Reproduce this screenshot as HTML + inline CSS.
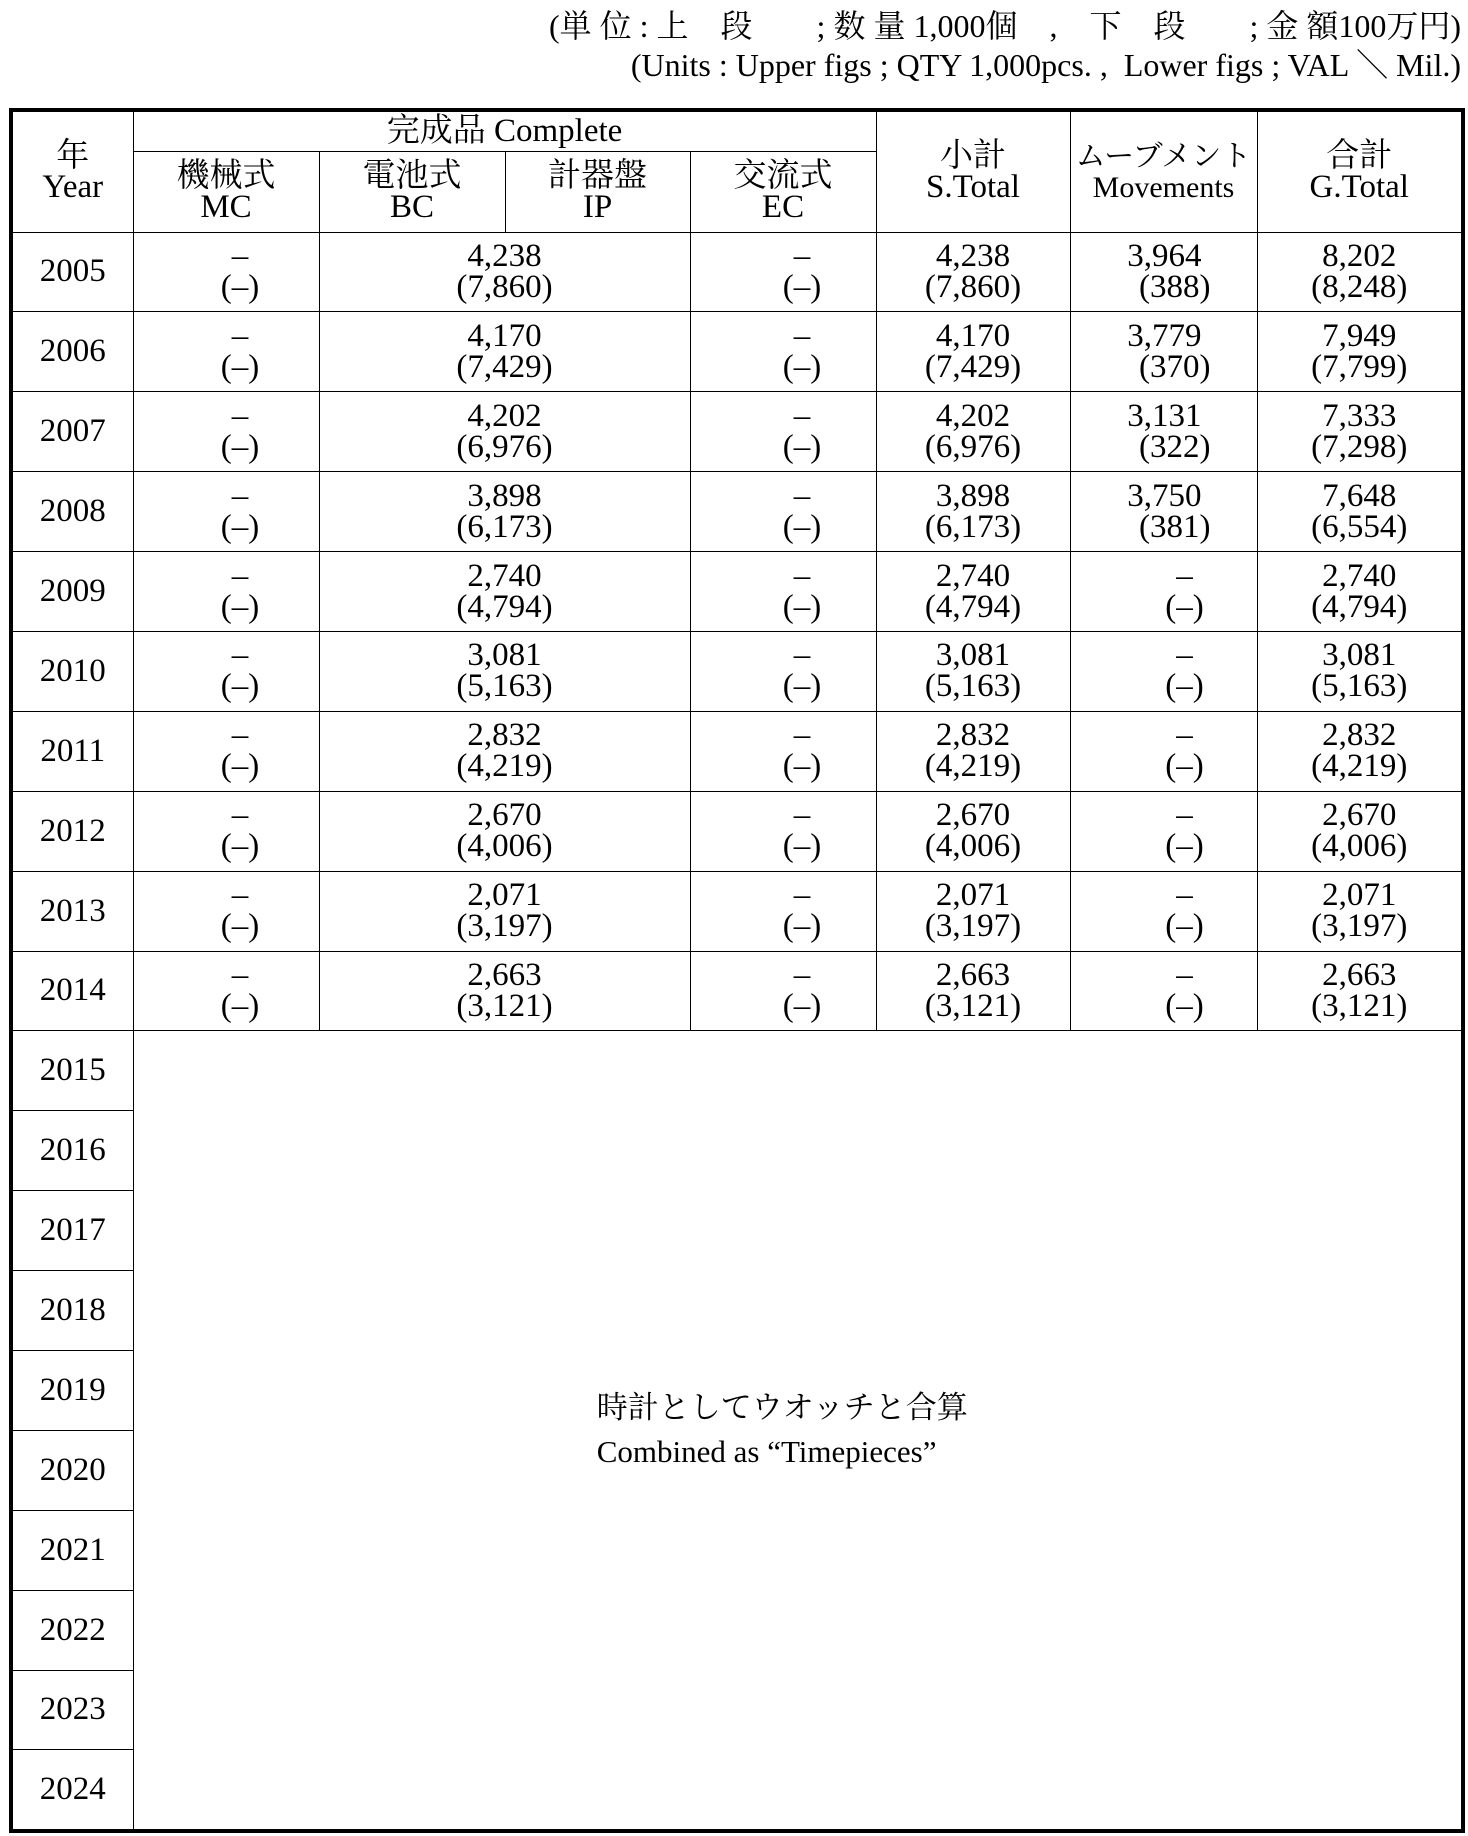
<!DOCTYPE html>
<html><head><meta charset="utf-8"><style>
body{margin:0;background:#fff;width:1468px;height:1836px;position:relative;overflow:hidden;font-family:"Liberation Serif","Noto Serif CJK SC",serif;color:#000}
.top{position:absolute;right:7px;font-size:32px;white-space:pre;line-height:38px}
table{position:absolute;left:9px;top:108px;border-collapse:collapse;table-layout:fixed;width:1452px;border:4px solid #000}
td{border:1.5px solid #000;text-align:center;vertical-align:middle;font-size:33px;line-height:31px;padding:0;overflow:hidden;white-space:nowrap}
tr.d td{height:78.9px}
.mc{padding-left:28px}
.ec{padding-left:38px}
.mv{padding-left:42px}
.mvr{text-align:right;padding-right:46px}
.mvr span{display:block}
.mvr span.u{padding-right:9px}
.big{font-size:31px;line-height:44px;text-align:center;vertical-align:middle}
td.mh{font-size:30px}
</style></head><body>
<div class="top" style="top:7px">(単 位 : 上　段　　; 数 量 1,000個　,　下　段　　; 金 額100万円)</div>
<div class="top" style="top:46px">(Units : Upper figs ; QTY 1,000pcs. ,  Lower figs ; VAL ＼ Mil.)</div>
<table>
<colgroup><col style="width:122px"><col style="width:186px"><col style="width:186px"><col style="width:185px"><col style="width:186px"><col style="width:194px"><col style="width:187px"><col style="width:206px"></colgroup>
<tr style="height:41px"><td rowspan="2">年<br>Year</td><td colspan="4">完成品 Complete</td><td rowspan="2">小計<br>S.Total</td><td rowspan="2" class="mh">ムーブメント<br>Movements</td><td rowspan="2">合計<br>G.Total</td></tr>
<tr style="height:81px"><td>機械式<br>MC</td><td>電池式<br>BC</td><td>計器盤<br>IP</td><td>交流式<br>EC</td></tr>
<tr class="d"><td>2005</td><td class="mc">–<br>(–)</td><td colspan="2">4,238<br>(7,860)</td><td class="ec">–<br>(–)</td><td>4,238<br>(7,860)</td><td class="mvr"><span class="u">3,964</span><span>(388)</span></td><td>8,202<br>(8,248)</td></tr>
<tr class="d"><td>2006</td><td class="mc">–<br>(–)</td><td colspan="2">4,170<br>(7,429)</td><td class="ec">–<br>(–)</td><td>4,170<br>(7,429)</td><td class="mvr"><span class="u">3,779</span><span>(370)</span></td><td>7,949<br>(7,799)</td></tr>
<tr class="d"><td>2007</td><td class="mc">–<br>(–)</td><td colspan="2">4,202<br>(6,976)</td><td class="ec">–<br>(–)</td><td>4,202<br>(6,976)</td><td class="mvr"><span class="u">3,131</span><span>(322)</span></td><td>7,333<br>(7,298)</td></tr>
<tr class="d"><td>2008</td><td class="mc">–<br>(–)</td><td colspan="2">3,898<br>(6,173)</td><td class="ec">–<br>(–)</td><td>3,898<br>(6,173)</td><td class="mvr"><span class="u">3,750</span><span>(381)</span></td><td>7,648<br>(6,554)</td></tr>
<tr class="d"><td>2009</td><td class="mc">–<br>(–)</td><td colspan="2">2,740<br>(4,794)</td><td class="ec">–<br>(–)</td><td>2,740<br>(4,794)</td><td class="mv">–<br>(–)</td><td>2,740<br>(4,794)</td></tr>
<tr class="d"><td>2010</td><td class="mc">–<br>(–)</td><td colspan="2">3,081<br>(5,163)</td><td class="ec">–<br>(–)</td><td>3,081<br>(5,163)</td><td class="mv">–<br>(–)</td><td>3,081<br>(5,163)</td></tr>
<tr class="d"><td>2011</td><td class="mc">–<br>(–)</td><td colspan="2">2,832<br>(4,219)</td><td class="ec">–<br>(–)</td><td>2,832<br>(4,219)</td><td class="mv">–<br>(–)</td><td>2,832<br>(4,219)</td></tr>
<tr class="d"><td>2012</td><td class="mc">–<br>(–)</td><td colspan="2">2,670<br>(4,006)</td><td class="ec">–<br>(–)</td><td>2,670<br>(4,006)</td><td class="mv">–<br>(–)</td><td>2,670<br>(4,006)</td></tr>
<tr class="d"><td>2013</td><td class="mc">–<br>(–)</td><td colspan="2">2,071<br>(3,197)</td><td class="ec">–<br>(–)</td><td>2,071<br>(3,197)</td><td class="mv">–<br>(–)</td><td>2,071<br>(3,197)</td></tr>
<tr class="d"><td>2014</td><td class="mc">–<br>(–)</td><td colspan="2">2,663<br>(3,121)</td><td class="ec">–<br>(–)</td><td>2,663<br>(3,121)</td><td class="mv">–<br>(–)</td><td>2,663<br>(3,121)</td></tr>
<tr class="d"><td>2015</td><td colspan="7" rowspan="10" class="big"><div style="display:inline-block;text-align:left;margin-left:-30px">時計としてウオッチと合算<br>Combined as “Timepieces”</div></td></tr>
<tr class="d"><td>2016</td></tr>
<tr class="d"><td>2017</td></tr>
<tr class="d"><td>2018</td></tr>
<tr class="d"><td>2019</td></tr>
<tr class="d"><td>2020</td></tr>
<tr class="d"><td>2021</td></tr>
<tr class="d"><td>2022</td></tr>
<tr class="d"><td>2023</td></tr>
<tr class="d"><td>2024</td></tr>
</table>
</body></html>
